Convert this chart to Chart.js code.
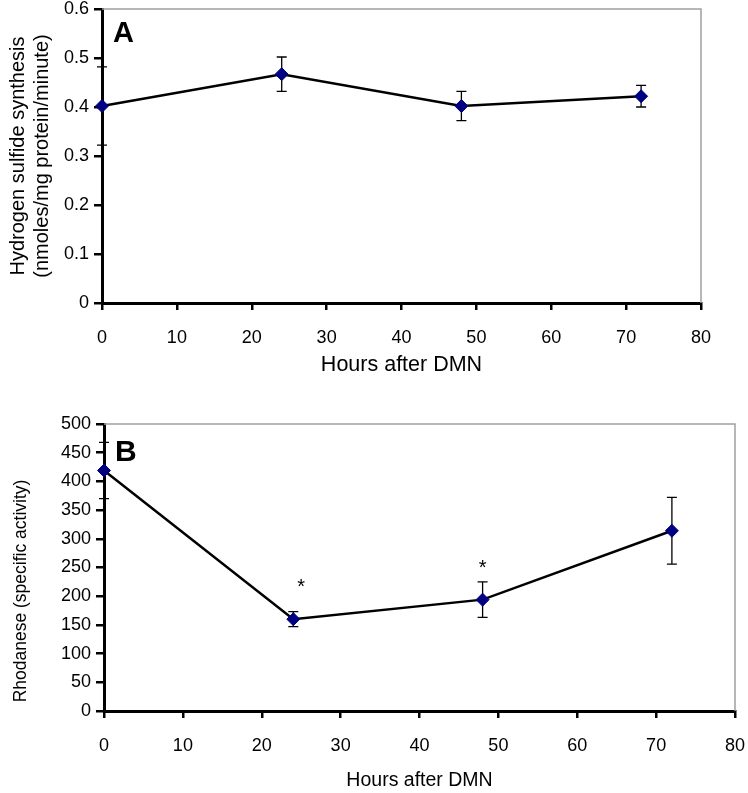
<!DOCTYPE html>
<html><head><meta charset="utf-8">
<script src="https://cdn.jsdelivr.net/npm/chart.js@4.4.1/dist/chart.umd.min.js"></script>
<style>
html,body{margin:0;padding:0;background:#fff;}
#wa{position:absolute;left:0;top:0;width:748px;height:385px;}
#wb{position:absolute;left:0;top:385px;width:748px;height:408px;}
</style></head><body>
<div id="wa"><canvas id="ca"></canvas></div>
<div id="wb"><canvas id="cb"></canvas></div>
<script>
// ---- data ----
const hours = [0, 24, 48, 72];
const h2sValues = [0.402, 0.467, 0.402, 0.422];
const h2sErrors = [0.080, 0.035, 0.030, 0.022];
const rhodValues = [419, 160, 194, 314];
const rhodErrors = [49, 13, 31, 58];
const starHours = [25, 48];
const starLevels = [223, 256];
const xTickLabels = ['0','10','20','30','40','50','60','70','80'];
const yTickLabelsA = ['0','0.1','0.2','0.3','0.4','0.5','0.6'];
const yTickLabelsB = ['0','50','100','150','200','250','300','350','400','450','500'];
const xTitle = 'Hours after DMN';
const yTitleA = ['Hydrogen sulfide synthesis', '(nmoles/mg protein/minute)'];
const yTitleB = 'Rhodanese (specific activity)';

const FONT = "'Liberation Sans', Arial, sans-serif";
Chart.defaults.font.family = FONT;
Chart.defaults.color = '#000';

const errorBars = {
  id: 'errorBars',
  beforeDatasetsDraw(chart) {
    const {ctx, chartArea: a, scales: {x, y}} = chart;
    // gray top/right frame
    ctx.save();
    ctx.strokeStyle = '#a0a0a0';
    ctx.lineWidth = 1.5;
    ctx.beginPath();
    ctx.moveTo(a.left, a.top);
    ctx.lineTo(a.right, a.top);
    ctx.lineTo(a.right, a.bottom);
    ctx.stroke();
    ctx.restore();
    const ds = chart.data.datasets[0];
    const errs = ds.errors;
    ctx.save();
    ctx.strokeStyle = '#000';
    ctx.lineWidth = 1.3;
    ds.data.forEach((p, i) => {
      const px = x.getPixelForValue(p.x);
      const yt = y.getPixelForValue(p.y + errs[i]);
      const yb = y.getPixelForValue(p.y - errs[i]);
      ctx.beginPath();
      ctx.moveTo(px, yt); ctx.lineTo(px, yb);
      ctx.moveTo(px - 5, yt); ctx.lineTo(px + 5, yt);
      ctx.moveTo(px - 5, yb); ctx.lineTo(px + 5, yb);
      ctx.stroke();
    });
    ctx.restore();
  }
};

const decorations = {
  id: 'decorations',
  afterDatasetsDraw(chart, args, opts) {
    const {ctx, chartArea: a, scales: {x, y}} = chart;
    ctx.save();
    ctx.fillStyle = '#000';
    ctx.textAlign = 'left';
    ctx.textBaseline = 'alphabetic';
    ctx.font = 'bold ' + opts.letterSize + 'px ' + FONT;
    ctx.fillText(opts.letter, a.left + 11, a.top + opts.letterDy);
    if (opts.stars) {
      ctx.font = '20px ' + FONT;
      ctx.textAlign = 'center';
      ctx.textBaseline = 'middle';
      opts.stars.x.forEach((hx, i) => {
        ctx.fillText('*', x.getPixelForValue(hx), y.getPixelForValue(opts.stars.y[i]) + 4);
      });
    }
    if (opts.yTitle) {
      ctx.save();
      ctx.font = opts.yTitleSize + 'px ' + FONT;
      ctx.textAlign = 'center';
      ctx.textBaseline = 'middle';
      ctx.translate(opts.yTitleX, opts.yTitleY);
      ctx.rotate(-Math.PI / 2);
      ctx.fillText(opts.yTitle, 0, 0);
      ctx.restore();
    }
    ctx.restore();
  }
};

function makeOptions(cfg) {
  return {
    responsive: true,
    maintainAspectRatio: false,
    animation: false,
    devicePixelRatio: 1,
    layout: {padding: {top: cfg.padTop, right: cfg.padRight, left: 0, bottom: 0}},
    plugins: {
      legend: {display: false},
      tooltip: {enabled: false},
      decorations: cfg.deco
    },
    scales: {
      x: {
        type: 'linear', min: 0, max: 80,
        afterFit(s) { s.height = cfg.xHeight; s.paddingLeft = 0; s.paddingRight = 0; },
        afterBuildTicks(s) { s.ticks = xTickLabels.map(v => ({value: Number(v)})); },
        ticks: {font: {size: cfg.tickSize}, padding: 17, maxRotation: 0,
          callback: (v) => xTickLabels[xTickLabels.indexOf(String(v))]},
        grid: {display: true, drawOnChartArea: false, drawTicks: true, tickLength: 7, color: '#000', lineWidth: 2.5},
        border: {display: true, color: '#000', width: 3},
        title: {display: true, text: xTitle, font: {size: cfg.titleSize}, padding: {top: 0, bottom: cfg.xTitlePad}}
      },
      y: {
        type: 'linear', min: 0, max: cfg.yMax,
        afterFit(s) { s.width = cfg.yWidth; s.paddingTop = 0; s.paddingBottom = 0; },
        afterBuildTicks(s) { s.ticks = cfg.yLabels.map(v => ({value: Number(v)})); },
        ticks: {font: {size: cfg.tickSize}, padding: 5,
          callback: (v, i) => cfg.yLabels[i]},
        grid: {display: true, drawOnChartArea: false, drawTicks: true, tickLength: 8, color: '#000', lineWidth: 2.5},
        border: {display: true, color: '#000', width: 3},
        title: cfg.yTitle ? {display: true, text: cfg.yTitle, font: {size: cfg.yTitleSize, lineHeight: 1.2}, padding: {top: cfg.yTitlePad, bottom: 0}} : {display: false}
      }
    }
  };
}

function dataset(vals, errs) {
  return {
    data: hours.map((h, i) => ({x: h, y: vals[i]})),
    errors: errs,
    borderColor: '#000',
    borderWidth: 2.5,
    pointStyle: 'rectRot',
    pointRadius: 6.5,
    pointBackgroundColor: '#000080',
    pointBorderColor: '#000080',
    pointBorderWidth: 1,
    tension: 0,
    clip: false
  };
}

new Chart(document.getElementById('ca'), {
  type: 'line',
  data: {datasets: [dataset(h2sValues, h2sErrors)]},
  options: makeOptions({
    padTop: 9, padRight: 47, xHeight: 82, yWidth: 102, yMax: 0.6,
    yLabels: yTickLabelsA, tickSize: 18, titleSize: 21.5, xTitlePad: 7,
    yTitle: yTitleA, yTitleSize: 20, yTitlePad: 6,
    deco: {letter: 'A', letterSize: 29, letterDy: 33}
  }),
  plugins: [errorBars, decorations]
});

new Chart(document.getElementById('cb'), {
  type: 'line',
  data: {datasets: [dataset(rhodValues, rhodErrors)]},
  options: makeOptions({
    padTop: 39, padRight: 13, xHeight: 82, yWidth: 104, yMax: 500,
    yLabels: yTickLabelsB, tickSize: 18, titleSize: 19.5, xTitlePad: 1,
    yTitle: null,
    deco: {letter: 'B', letterSize: 30, letterDy: 37,
      stars: {x: starHours, y: starLevels},
      yTitle: yTitleB, yTitleSize: 17.5, yTitleX: 21, yTitleY: 591 - 385}
  }),
  plugins: [errorBars, decorations]
});
</script>
</body></html>
